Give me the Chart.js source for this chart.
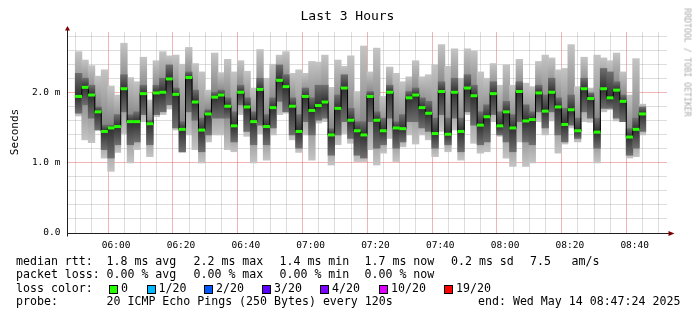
<!DOCTYPE html>
<html>
<head>
<meta charset="utf-8">
<script src="https://cdn.jsdelivr.net/npm/chart.js@4.4.0/dist/chart.umd.min.js"></script>
<style>
body { margin: 0; background: #fff; }
#wrap { position: relative; width: 697px; height: 321px; font-family: "DejaVu Sans Mono", monospace; color: #000; overflow: hidden; }
#wrap canvas { position: absolute; left: 0; top: 0; }
.t { position: absolute; white-space: pre; line-height: 1; }
.lg { font-size: 11.6px; }
.box { position: absolute; width: 7px; height: 7px; border: 1px solid #000; }
</style>
</head>
<body>
<div id="wrap">
  <canvas id="chart" width="697" height="321"></canvas>
  <div class="t" style="left:-1px;top:9px;width:697px;text-align:center;font-size:13px;">Last 3 Hours</div>
  <div class="t" style="left:-15px;top:126px;width:60px;height:12px;line-height:12px;text-align:center;font-size:11px;transform:rotate(-90deg);">Seconds</div>
  <div class="t" style="left:627px;top:58px;width:120px;height:9px;line-height:9px;text-align:center;font-size:8.2px;color:#a8a8a8;transform:rotate(90deg);">RRDTOOL / TOBI OETIKER</div>
  <div id="legend"></div>
</div>
<script>
// time axis, minutes after midnight (05:47:24 .. 08:47:24)
const startTime = 347.4;
const endTime = 527.4;
const firstSample = 348.4;   // centre of first 120s step
const stepMinutes = 2;

// median rtt per step (ms)
const median = [
  1.95, 2.08, 1.97, 1.73, 1.45, 1.50, 1.52, 2.06, 1.59, 1.59,
  1.99, 1.56, 2.00, 2.01, 2.20, 1.98, 1.48, 2.22, 1.87, 1.47,
  1.70, 1.94, 1.97, 1.81, 1.53, 2.01, 1.80, 1.59, 2.05, 1.52,
  1.79, 2.18, 2.09, 1.81, 1.45, 1.95, 1.75, 1.82, 1.87, 1.40,
  1.78, 2.07, 1.61, 1.46, 1.40, 1.95, 1.61, 1.46, 2.01, 1.50,
  1.49, 1.93, 1.97, 1.79, 1.71, 1.42, 2.02, 1.41, 2.01, 1.45,
  2.07, 1.96, 1.54, 1.66, 1.99, 1.53, 1.73, 1.50, 2.02, 1.60,
  1.62, 2.00, 1.74, 2.01, 1.80, 1.55, 1.76, 1.46, 2.06, 1.92,
  1.44, 2.06, 1.93, 2.04, 1.88, 1.37, 1.48, 1.70
];
// smoke: slowest and fastest ping of each step (ms)
const smokeMax = [
  2.59, 2.47, 2.39, 2.24, 2.33, 2.10, 1.97, 2.71, 2.22, 2.16,
  2.51, 1.90, 2.46, 2.59, 2.53, 2.54, 2.41, 2.65, 2.42, 2.30,
  2.04, 2.57, 2.29, 2.48, 2.30, 2.46, 2.31, 2.07, 2.62, 2.21,
  2.41, 2.54, 2.59, 2.28, 2.33, 2.28, 2.45, 2.44, 2.54, 2.08,
  2.47, 2.38, 2.53, 2.02, 2.67, 2.30, 2.64, 1.95, 2.37, 2.28,
  2.16, 2.23, 2.46, 2.23, 2.26, 2.40, 2.69, 2.38, 2.63, 2.21,
  2.63, 2.60, 2.30, 2.21, 2.42, 2.11, 2.40, 2.11, 2.48, 2.14,
  2.09, 2.45, 2.54, 2.50, 2.33, 2.35, 2.69, 2.09, 2.51, 2.07,
  2.54, 2.50, 2.46, 2.57, 2.30, 1.97, 2.49, 1.84
];
const smokeMin = [
  1.67, 1.33, 1.29, 1.47, 1.07, 0.88, 1.15, 1.42, 1.00, 1.19,
  1.59, 1.09, 1.66, 1.69, 1.77, 1.47, 1.15, 1.40, 1.19, 1.00,
  1.30, 1.40, 1.40, 1.19, 1.16, 1.69, 1.38, 1.00, 1.42, 1.04,
  1.40, 1.69, 1.71, 1.33, 1.15, 1.40, 1.04, 1.57, 1.59, 0.97,
  1.26, 1.42, 1.28, 1.02, 1.02, 1.19, 0.97, 1.14, 1.35, 1.02,
  1.23, 1.40, 1.27, 1.40, 1.33, 1.09, 1.45, 1.16, 1.47, 1.04,
  1.69, 1.28, 1.14, 1.16, 1.59, 1.38, 1.07, 0.95, 1.30, 0.95,
  1.00, 1.59, 1.40, 1.60, 1.14, 1.27, 1.50, 1.30, 1.59, 1.58,
  1.00, 1.73, 1.76, 1.60, 1.59, 1.07, 1.09, 1.40
];
// dense middle part of the smoke (ms)
const coreHi = [
  2.28, 2.21, 2.11, 1.80, 1.54, 1.54, 1.69, 2.26, 1.69, 1.73,
  2.11, 1.61, 2.11, 2.21, 2.40, 2.07, 1.59, 2.30, 2.04, 1.64,
  1.76, 2.01, 2.04, 1.93, 1.73, 2.11, 1.93, 1.73, 2.21, 1.69,
  1.93, 2.40, 2.26, 1.93, 1.69, 2.07, 1.93, 2.11, 2.11, 1.49,
  1.97, 2.26, 1.78, 1.59, 1.59, 2.02, 1.73, 1.64, 2.11, 1.59,
  1.69, 2.02, 2.07, 1.93, 1.88, 1.64, 2.16, 1.64, 2.21, 1.64,
  2.26, 2.11, 1.73, 1.83, 2.16, 1.73, 1.88, 1.69, 2.16, 1.83,
  1.73, 2.11, 1.97, 2.21, 1.93, 1.78, 1.97, 1.64, 2.21, 2.00,
  1.64, 2.35, 2.30, 2.16, 1.97, 1.49, 1.64, 1.80
];
const coreLo = [
  1.71, 1.83, 1.64, 1.47, 1.19, 1.07, 1.26, 1.73, 1.26, 1.30,
  1.69, 1.26, 1.69, 1.73, 1.83, 1.50, 1.16, 1.73, 1.61, 1.16,
  1.40, 1.64, 1.64, 1.64, 1.30, 1.83, 1.45, 1.26, 1.54, 1.26,
  1.50, 1.88, 1.73, 1.40, 1.21, 1.59, 1.40, 1.61, 1.64, 1.11,
  1.40, 1.59, 1.35, 1.11, 1.07, 1.59, 1.21, 1.26, 1.64, 1.21,
  1.30, 1.59, 1.59, 1.50, 1.45, 1.21, 1.69, 1.26, 1.64, 1.16,
  1.73, 1.54, 1.26, 1.30, 1.69, 1.40, 1.30, 1.16, 1.59, 1.30,
  1.26, 1.73, 1.50, 1.73, 1.40, 1.30, 1.54, 1.35, 1.73, 1.64,
  1.21, 1.78, 1.78, 1.64, 1.59, 1.11, 1.21, 1.45
];

const yMax = 2.87;
const yTickLabels = { '0.0': '0.0', '1.0': '1.0 m', '2.0': '2.0 m' };
const xMajorEvery = 20;
const xMinorEvery = 5;

// legend texts
const statRows = [
  ['median rtt:', '1.8 ms avg', '2.2 ms max', '1.4 ms min', '1.7 ms now', '0.2 ms sd', '7.5', 'am/s'],
  ['packet loss:', '0.00 % avg', '0.00 % max', '0.00 % min', '0.00 % now']
];
const lossLabels = ['0', '1/20', '2/20', '3/20', '4/20', '10/20', '19/20'];
const lossColors = ['#26ff00', '#00b8ff', '#0059ff', '#5e00ff', '#7e00ff', '#dd00ff', '#ff0000'];
const probeText = '20 ICMP Echo Pings (250 Bytes) every 120s';
const endText = 'end: Wed May 14 08:47:24 2025';

// legend layout
const legend = document.getElementById('legend');
function addText(txt, left, top, cls) {
  const d = document.createElement('div');
  d.className = 't ' + (cls || 'lg');
  d.style.left = left + 'px';
  d.style.top = top + 'px';
  d.textContent = txt;
  legend.appendChild(d);
}
const colLeft = [16, 106.5, 193.5, 279.5, 364.5, 451, 530, 571.5];
const rowTop = [256.2, 268.9, 282.5, 296.2];
statRows.forEach((row, r) => row.forEach((s, i) => addText(s, colLeft[i], rowTop[r])));
addText('loss color:', 16, rowTop[2]);
const boxLeft = [109, 146.5, 204, 262, 320, 379, 444];
lossLabels.forEach((lab, i) => {
  const b = document.createElement('div');
  b.className = 'box';
  b.style.left = boxLeft[i] + 'px';
  b.style.top = '284.5px';
  b.style.background = lossColors[i];
  legend.appendChild(b);
  addText(lab, boxLeft[i] + 12, rowTop[2]);
});
addText('probe:', 16, rowTop[3]);
addText(probeText, 106.5, rowTop[3]);
addText(endText, 478, rowTop[3]);

function fmtTime(m) {
  const h = Math.floor(m / 60), mm = Math.round(m % 60);
  return String(h).padStart(2, '0') + ':' + String(mm).padStart(2, '0');
}

function smokeFill(lo, hi, edge, mid) {
  return function (ctx) {
    const chart = ctx.chart;
    if (!chart.chartArea || ctx.type !== 'data') return mid;
    const i = ctx.dataIndex;
    const ys = chart.scales.y;
    const top = ys.getPixelForValue(hi[i]);
    const bot = ys.getPixelForValue(lo[i]);
    if (!isFinite(top) || !isFinite(bot) || bot - top < 2) return mid;
    let f = (ys.getPixelForValue(median[i]) - top) / (bot - top);
    f = Math.min(0.9, Math.max(0.1, f));
    const g = chart.ctx.createLinearGradient(0, top, 0, bot);
    g.addColorStop(0, edge);
    g.addColorStop(f, mid);
    g.addColorStop(1, edge);
    return g;
  };
}

const axisArrows = {
  id: 'axisArrows',
  afterDraw(chart) {
    const ctx = chart.ctx, a = chart.chartArea;
    const y0 = Math.round(chart.scales.y.getPixelForValue(0)) + 0.5;
    const x0 = a.left + 0.5;
    ctx.save();
    ctx.strokeStyle = '#1f1f1f';
    ctx.lineWidth = 1;
    ctx.beginPath();
    ctx.moveTo(x0, y0 + 3);
    ctx.lineTo(x0, a.top - 2);
    ctx.moveTo(a.left, y0);
    ctx.lineTo(a.right + 2, y0);
    ctx.stroke();
    ctx.fillStyle = '#800000';
    ctx.beginPath();
    ctx.moveTo(x0, a.top - 6);
    ctx.lineTo(x0 - 2.5, a.top - 1.5);
    ctx.lineTo(x0 + 2.5, a.top - 1.5);
    ctx.closePath();
    ctx.fill();
    ctx.beginPath();
    ctx.moveTo(a.right + 7.5, y0);
    ctx.lineTo(a.right + 1.5, y0 - 2.5);
    ctx.lineTo(a.right + 1.5, y0 + 2.5);
    ctx.closePath();
    ctx.fill();
    ctx.restore();
  }
};

Chart.defaults.font.family = "'DejaVu Sans Mono', monospace";
Chart.defaults.color = '#000';

const xs = median.map((_, i) => firstSample + stepMinutes * i);
const colWidth = 600 / 180 * stepMinutes;   // px per step on the 600px plot

new Chart(document.getElementById('chart'), {
  type: 'bar',
  data: {
    datasets: [
      {
        type: 'line',
        data: median.map((v, i) => ({ x: xs[i], y: v })),
        borderColor: '#000',
        borderWidth: 1,
        stepped: 'middle',
        pointStyle: 'line',
        pointRadius: 3.4,
        pointHoverRadius: 3.4,
        pointBorderWidth: 3,
        pointBorderColor: '#26ff00',
        pointBackgroundColor: '#26ff00',
        order: 0
      },
      {
        data: coreLo.map((v, i) => ({ x: xs[i], y: [v, coreHi[i]] })),
        backgroundColor: smokeFill(coreLo, coreHi, '#6e6e6e', '#303030'),
        borderWidth: 0,
        grouped: false,
        barThickness: colWidth,
        order: 1
      },
      {
        data: smokeMin.map((v, i) => ({ x: xs[i], y: [v, smokeMax[i]] })),
        backgroundColor: smokeFill(smokeMin, smokeMax, '#c4c4c4', '#7e7e7e'),
        borderWidth: 0,
        grouped: false,
        barThickness: colWidth,
        order: 2
      }
    ]
  },
  options: {
    responsive: false,
    animation: false,
    devicePixelRatio: 1,
    layout: { padding: { left: 0, right: 30, top: 32, bottom: 0 } },
    plugins: { legend: { display: false }, tooltip: { enabled: false } },
    scales: {
      x: {
        type: 'linear',
        min: startTime,
        max: endTime,
        z: 1,
        afterFit(s) { s.height = 88; },
        afterBuildTicks(s) {
          const t = [];
          for (let v = Math.ceil(startTime / xMinorEvery) * xMinorEvery; v <= endTime; v += xMinorEvery) t.push({ value: v });
          s.ticks = t;
        },
        border: { display: false },
        grid: {
          drawTicks: false,
          lineWidth: 1,
          color: c => (c.tick && c.tick.value % xMajorEvery === 0) ? 'rgba(222,79,79,0.42)' : 'rgba(143,143,143,0.3)'
        },
        ticks: {
          autoSkip: false,
          maxRotation: 0,
          padding: 7,
          font: { size: 9.5 },
          callback: v => (v % xMajorEvery === 0) ? fmtTime(v) : ''
        }
      },
      y: {
        min: 0,
        max: yMax,
        z: 1,
        afterFit(s) { s.width = 67; },
        afterBuildTicks(s) {
          const t = [];
          for (let k = 0; k * 0.2 <= yMax; k++) t.push({ value: Math.round(k * 2) / 10 });
          s.ticks = t;
        },
        border: { display: false },
        grid: {
          drawTicks: false,
          lineWidth: 1,
          color: c => {
            const v = c.tick ? c.tick.value : 0;
            if (v === 0) return 'rgba(0,0,0,0)';
            return (Math.abs(v - Math.round(v)) < 1e-6) ? 'rgba(222,79,79,0.42)' : 'rgba(143,143,143,0.3)';
          }
        },
        ticks: {
          autoSkip: false,
          padding: 6.5,
          font: { size: 9.5 },
          callback: v => yTickLabels[Number(v).toFixed(1)] || ''
        }
      }
    }
  },
  plugins: [axisArrows]
});
</script>
</body>
</html>
